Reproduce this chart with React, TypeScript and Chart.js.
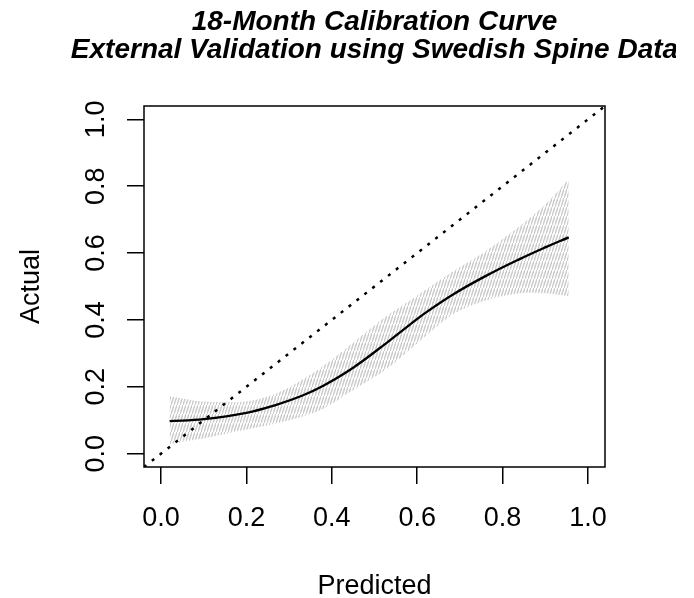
import React, { useEffect, useRef } from "react";
import { Chart, registerables } from "chart.js";

Chart.register(...registerables);

// ---- data ----
const predicted = [0.02, 0.1, 0.2, 0.27, 0.33, 0.38, 0.45, 0.53, 0.58, 0.62, 0.685, 0.76, 0.84, 0.9, 0.955];
const actual = [0.097, 0.103, 0.122, 0.146, 0.173, 0.203, 0.257, 0.333, 0.383, 0.422, 0.477, 0.531, 0.582, 0.617, 0.647];
const lowerCI = [0.028, 0.046, 0.072, 0.09, 0.11, 0.134, 0.19, 0.255, 0.308, 0.352, 0.418, 0.458, 0.48, 0.48, 0.471];
const upperCI = [0.172, 0.156, 0.156, 0.18, 0.22, 0.262, 0.332, 0.413, 0.455, 0.49, 0.546, 0.605, 0.68, 0.745, 0.82];
const diagonal = [-0.04, 1.04];
const tickValues = [0, 0.2, 0.4, 0.6, 0.8, 1.0];
const titleLines = ["18-Month Calibration Curve", "External Validation using Swedish Spine Data"];
const xLabel = "Predicted";
const yLabel = "Actual";

const FONT = '"Liberation Sans", Arial, Helvetica, sans-serif';

function makeHatch(ctx: CanvasRenderingContext2D) {
  const c = document.createElement("canvas");
  c.width = 3;
  c.height = 9;
  const g = c.getContext("2d")!;
  g.strokeStyle = "#cacaca";
  g.lineWidth = 1.4;
  g.beginPath();
  g.moveTo(-1, 12);
  g.lineTo(4, -3);
  g.stroke();
  return ctx.createPattern(c, "repeat");
}

const boxPlugin = {
  id: "plotBox",
  afterDraw(chart: any) {
    const { ctx, chartArea } = chart;
    const { left, top, right, bottom } = chartArea;
    ctx.save();
    ctx.strokeStyle = "#000";
    ctx.lineWidth = 1.5;
    ctx.strokeRect(left, top, right - left, bottom - top);
    ctx.restore();
  },
};

export default function App() {
  const ref = useRef<HTMLCanvasElement | null>(null);

  useEffect(() => {
    const canvas = ref.current!;
    const ctx = canvas.getContext("2d")!;
    const hatch = makeHatch(ctx);

    const pts = (ys: number[]) => predicted.map((x, i) => ({ x, y: ys[i] }));
    const setTicks = (s: any) => {
      s.ticks = tickValues.map((v) => ({ value: v }));
    };

    const chart = new Chart(canvas, {
      type: "line",
      data: {
        datasets: [
          {
            label: "Ideal",
            data: diagonal.map((v) => ({ x: v, y: v })),
            borderColor: "#000",
            borderWidth: 2.5,
            borderDash: [3, 7],
            pointRadius: 0,
            fill: false,
          },
          {
            label: "Calibration",
            data: pts(actual),
            borderColor: "#000",
            borderWidth: 2.3,
            pointRadius: 0,
            tension: 0.4,
            fill: false,
          },
          {
            label: "Lower",
            data: pts(lowerCI),
            borderColor: "transparent",
            borderWidth: 0,
            pointRadius: 0,
            tension: 0.3,
            fill: false,
          },
          {
            label: "Upper",
            data: pts(upperCI),
            borderColor: "transparent",
            borderWidth: 0,
            pointRadius: 0,
            tension: 0.3,
            fill: "-1",
            backgroundColor: hatch as any,
          },
        ],
      },
      options: {
        responsive: false,
        maintainAspectRatio: false,
        devicePixelRatio: 1,
        animation: false,
        layout: { padding: { left: 0, right: 0, top: 0, bottom: 0 } },
        plugins: {
          legend: { display: false },
          tooltip: { enabled: false },
          title: {
            display: true,
            text: titleLines,
            color: "#000",
            font: { family: FONT, size: 28, weight: "bold", style: "italic", lineHeight: "28px" },
            padding: { top: 8.3, bottom: 41.7 },
          },
        },
        scales: {
          x: {
            type: "linear",
            position: "bottom",
            min: -0.04,
            max: 1.04,
            afterBuildTicks: setTicks,
            afterFit: (s: any) => {
              s.height = 131;
            },
            grid: { drawOnChartArea: false, drawTicks: true, tickLength: 17, color: "#000", lineWidth: 1.5 },
            border: { display: false },
            ticks: {
              color: "#000",
              font: { family: FONT, size: 27 },
              padding: 18,
              minRotation: 0,
              maxRotation: 0,
              autoSkip: false,
              callback: (v: any) => Number(v).toFixed(1),
            },
            title: {
              display: true,
              text: xLabel,
              color: "#000",
              font: { family: FONT, size: 27, lineHeight: 0.8 },
              padding: { top: 0, bottom: 1 },
            },
          },
          y: {
            type: "linear",
            position: "left",
            min: -0.04,
            max: 1.04,
            afterBuildTicks: setTicks,
            afterFit: (s: any) => {
              s.width = 144;
            },
            grid: { drawOnChartArea: false, drawTicks: true, tickLength: 17, color: "#000", lineWidth: 1.5 },
            border: { display: false },
            ticks: {
              color: "#000",
              font: { family: FONT, size: 27 },
              padding: 12,
              minRotation: 90,
              maxRotation: 90,
              crossAlign: "center",
              autoSkip: false,
              callback: (v: any) => Number(v).toFixed(1),
            },
            title: {
              display: true,
              text: yLabel,
              color: "#000",
              font: { family: FONT, size: 27, lineHeight: 0.8 },
              padding: { top: 20.7, bottom: 0 },
            },
          },
          yRight: {
            type: "linear",
            position: "right",
            display: true,
            grid: { display: false },
            border: { display: false },
            ticks: { display: false },
            afterFit: (s: any) => {
              s.width = 144;
            },
          },
        },
      } as any,
      plugins: [boxPlugin],
    });

    return () => chart.destroy();
  }, []);

  return (
    <div
      style={{
        position: "absolute",
        left: 0,
        top: 0,
        width: 676,
        height: 598,
        overflow: "hidden",
        background: "#fff",
      }}
    >
      <canvas ref={ref} width={749} height={598} style={{ display: "block" }} />
    </div>
  );
}
